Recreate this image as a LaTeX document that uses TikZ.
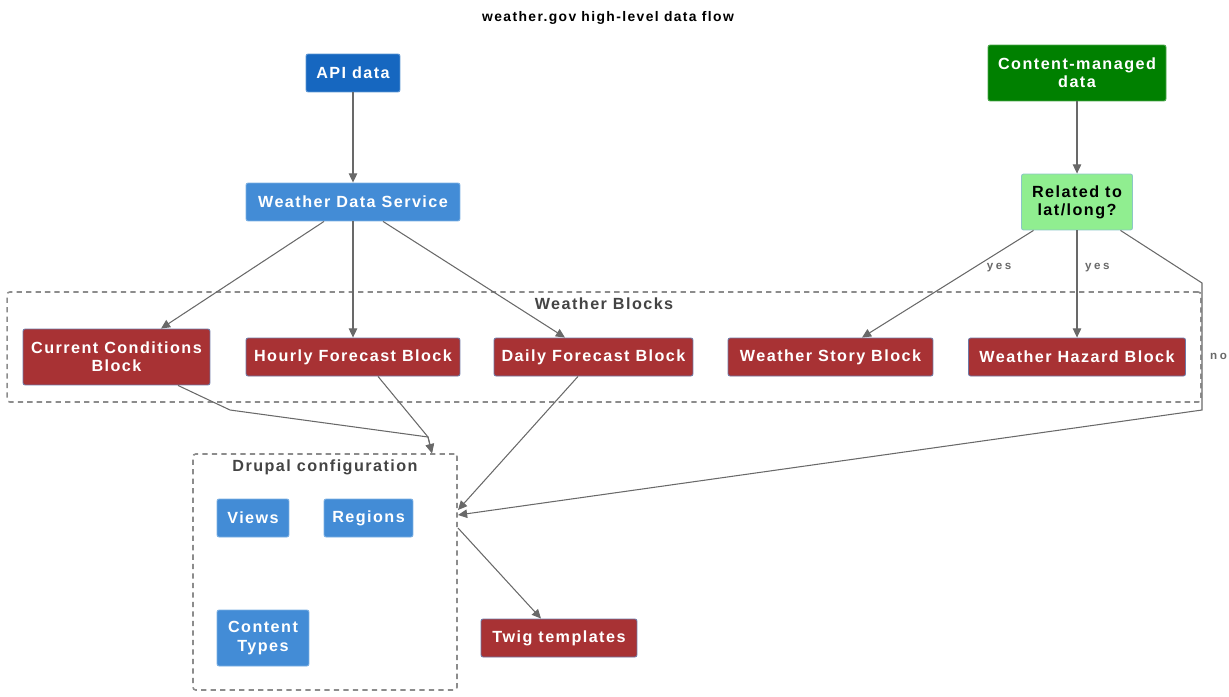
\documentclass[tikz,border=0pt]{standalone}
\usepackage{fontspec}
\setmainfont{Liberation Sans}
\usetikzlibrary{positioning, arrows.meta}
\definecolor{apiblue}{RGB}{22,103,192}
\definecolor{svcblue}{RGB}{67,140,214}
\definecolor{cmsgreen}{RGB}{0,128,0}
\definecolor{askgreen}{RGB}{144,238,144}
\definecolor{blockred}{RGB}{168,50,52}
\definecolor{edgegray}{RGB}{105,105,105}
\definecolor{groupgray}{RGB}{140,140,140}
\newcommand{\boxfont}{\bfseries\fontsize{9.2}{10.4}\selectfont\addfontfeature{LetterSpace=9}}
\tikzset{
    >={Triangle[length=5.2pt,width=4.8pt]}, % filled arrowheads
    box/.style={draw=#1!70!white, rounded corners=1.2pt, text=white, align=center,
        font=\boxfont, minimum height=0.76cm, inner sep=2pt, line width=0.5pt},
    api/.style={box=apiblue, fill=apiblue},
    svc/.style={box=svcblue, fill=svcblue},
    cms/.style={box=cmsgreen, fill=cmsgreen},
    ask/.style={box=teal, fill=askgreen, text=black, draw=teal!45},
    wblock/.style={box=blockred, fill=blockred, draw={rgb,255:red,110;green,120;blue,165}},
    group/.style={draw=groupgray, dash pattern=on 3pt off 2.4pt, line width=0.9pt, rounded corners=1.5pt},
    grouplabel/.style={text={rgb,255:red,68;green,68;blue,68}, font=\boxfont},
    flow/.style={->, draw=edgegray, line width=0.6pt},
    answer/.style={text=edgegray, font=\bfseries\fontsize{6.6}{8}\selectfont\addfontfeature{LetterSpace=22}},
}
\begin{document}
\begin{tikzpicture}[x=0.02cm, y=-0.02cm]
    \useasboundingbox (0,0) rectangle (1229,696);
    \node[font=\bfseries\fontsize{7.9}{9}\selectfont\addfontfeature{LetterSpace=10}] (title) at (608,18) {weather.gov high-level data flow};

    % groups
    \node[group, minimum width=23.88cm, minimum height=2.2cm] (blocks) at (604,347) {};
    \node[grouplabel] (blockslabel) at (604,304) {Weather Blocks};
    \node[group, minimum width=5.28cm, minimum height=4.72cm] (drupal) at (325,572) {};
    \node[grouplabel] (drupallabel) at (325,467) {Drupal configuration};

    % sources
    \node[api, minimum width=1.88cm] (api) at (353,73) {API data};
    \node[svc, minimum width=4.28cm] (wds) at (353,202) {Weather Data Service};
    \node[cms, minimum width=3.56cm, minimum height=1.12cm] (cms) at (1077,73) {Content-managed\\data};
    \node[ask, minimum width=2.22cm, minimum height=1.12cm] (rel) at (1077,202) {Related to\\lat/long?};

    % blocks
    \node[wblock, minimum width=3.74cm, minimum height=1.12cm] (current) at (116.5,357) {Current Conditions\\Block};
    \node[wblock, minimum width=4.28cm] (hourly) at (353,357) {Hourly Forecast Block};
    \node[wblock, minimum width=3.98cm] (daily) at (593.5,357) {Daily Forecast Block};
    \node[wblock, minimum width=4.1cm] (story) at (830.5,357) {Weather Story Block};
    \node[wblock, minimum width=4.34cm] (hazard) at (1077,357) {Weather Hazard Block};

    % drupal
    \node[svc, minimum width=1.44cm] (views) at (253,518) {Views};
    \node[svc, minimum width=1.78cm] (regions) at (368.5,518) {Regions};
    \node[svc, minimum width=1.84cm, minimum height=1.12cm] (types) at (263,638) {Content\\Types};
    \node[wblock, minimum width=3.12cm] (twig) at (559,638) {Twig templates};

    \coordinate (nocorner) at (1202,283);
    \coordinate (nobottom) at (1202,410);
    \coordinate (drupalin) at (458,515);
    \coordinate (drupalout) at (458,528);
    \coordinate (currentbend) at (230,410);
    \coordinate (merge) at (428,437);

    \draw[flow] (api) -- (wds);
    \draw[flow] ([xshift=-0.58cm]wds.south) -- ([xshift=0.89cm]current.north);
    \draw[flow] (wds) -- (hourly);
    \draw[flow] ([xshift=0.6cm]wds.south) -- ([xshift=-0.57cm]daily.north);
    \draw[flow] (cms) -- (rel);
    \draw[flow] ([xshift=-0.87cm]rel.south) -- node[answer, pos=0.35, right=4pt] {yes} ([xshift=0.63cm]story.north);
    \draw[flow] (rel) -- node[answer, pos=0.35, right=1pt] {yes} (hazard);
    \draw[flow] ([xshift=0.87cm]rel.south) -- (nocorner) -- node[answer, pos=0.58, right=1pt] {no} (nobottom) -- (drupalin);
    \draw[flow] ([xshift=1.23cm]current.south) -- (currentbend) -- (merge) -- ([xshift=2.14cm]drupal.north);
    \draw[flow] ([xshift=0.5cm]hourly.south) -- (merge) -- ([xshift=2.14cm]drupal.north);
    \draw[flow] ([xshift=-0.31cm]daily.south) -- ([yshift=0.1cm]drupalin);
    \draw[flow] (drupalout) -- ([xshift=-0.36cm]twig.north);
\end{tikzpicture}
\end{document}
